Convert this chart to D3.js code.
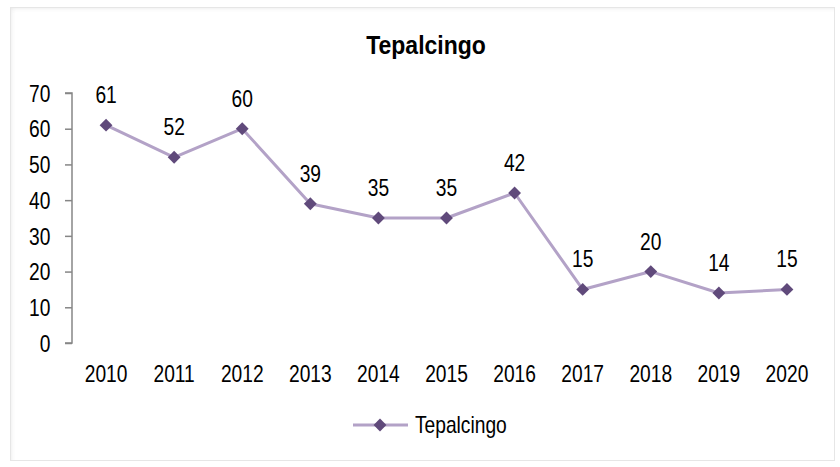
<!DOCTYPE html>
<html>
<head>
<meta charset="utf-8">
<script src="https://cdn.jsdelivr.net/npm/d3@7"></script>
<style>
  body { margin: 0; background: #fff; }
  svg { display: block; font-family: "Liberation Sans", Arial, sans-serif; }
</style>
</head>
<body>
<div id="chart"></div>
<script>
// data
var years = ["2010", "2011", "2012", "2013", "2014", "2015", "2016", "2017", "2018", "2019", "2020"];
var values = [61, 52, 60, 39, 35, 35, 42, 15, 20, 14, 15];
var yTicks = [0, 10, 20, 30, 40, 50, 60, 70];
var seriesName = "Tepalcingo";

var W = 840, H = 467;
var margin = { top: 93, right: 19, bottom: 124, left: 72 };
var width = W - margin.left - margin.right,
    height = H - margin.top - margin.bottom;
var narrow = "scale(0.8,1)"; // fake Arial Narrow

var svg = d3.select("#chart")
    .append("svg")
    .attr("width", W)
    .attr("height", H);

// frame with soft inset shadow (top + left)
var defs = svg.append("defs");
defs.append("clipPath").attr("id", "frameClip")
    .append("rect").attr("x", 10).attr("y", 7).attr("width", 825).attr("height", 454);
defs.append("filter").attr("id", "blur")
    .append("feGaussianBlur").attr("stdDeviation", 3);

svg.append("rect")
    .attr("x", 10).attr("y", 7)
    .attr("width", 825).attr("height", 454)
    .attr("fill", "#fff");
svg.append("g")
    .attr("clip-path", "url(#frameClip)")
    .append("rect")
    .attr("x", 5).attr("y", 2)
    .attr("width", 860).attr("height", 490)
    .attr("fill", "none")
    .attr("stroke", "#d0d0d0")
    .attr("stroke-width", 8)
    .attr("filter", "url(#blur)");
svg.append("rect")
    .attr("x", 10.5).attr("y", 7.5)
    .attr("width", 824).attr("height", 453)
    .attr("fill", "none")
    .attr("stroke", "#e6e6e6");

svg.append("text")
    .attr("transform", "translate(426 54) scale(0.92,1)")
    .attr("text-anchor", "middle")
    .attr("font-size", 25)
    .attr("font-weight", "bold")
    .text(seriesName);

var g = svg.append("g")
    .attr("transform", `translate(${margin.left} ${margin.top})`);

var x = d3.scaleBand()
    .domain(years)
    .range([0, width]);

var y = d3.scaleLinear()
    .domain([0, 70])
    .range([height, 0]);

// y axis
var yAxis = g.append("g")
    .call(d3.axisLeft(y).tickValues(yTicks).tickSize(7).tickPadding(20));
yAxis.select(".domain").attr("stroke", "#868686").attr("stroke-width", 1.5).attr("d", `M-7,${height}H0V0H-7`);
yAxis.selectAll(".tick line").attr("stroke", "#868686").attr("stroke-width", 1.5);
yAxis.selectAll(".tick text")
    .attr("font-size", 24).attr("fill", "#000").attr("font-family", "inherit")
    .attr("dy", "0.34em")
    .attr("transform", narrow);

// x axis (labels only)
var xAxis = g.append("g")
    .attr("transform", `translate(0, ${height})`)
    .call(d3.axisBottom(x).tickSize(0).tickPadding(22));
xAxis.select(".domain").remove();
xAxis.selectAll(".tick text")
    .attr("font-size", 24).attr("fill", "#000").attr("font-family", "inherit")
    .attr("transform", narrow);

var cx = function (d, i) { return x(years[i]) + x.bandwidth() / 2; };

var line = d3.line()
    .x(cx)
    .y(function (d) { return y(d); });

g.append("path")
    .datum(values)
    .attr("fill", "none")
    .attr("stroke", "#b3a2c7")
    .attr("stroke-width", 3)
    .attr("stroke-linejoin", "round")
    .attr("d", line);

var diamond = d3.symbol().type(d3.symbolDiamond2).size(105);

g.selectAll(".pt")
    .data(values)
    .enter().append("path")
    .attr("class", "pt")
    .attr("d", diamond)
    .attr("fill", "#604a7b")
    .attr("transform", function (d, i) { return `translate(${cx(d, i)} ${y(d)})`; });

g.selectAll(".lbl")
    .data(values)
    .enter().append("text")
    .attr("class", "lbl")
    .attr("transform", function (d, i) { return `translate(${cx(d, i)} ${y(d) - 22}) ${narrow}`; })
    .attr("text-anchor", "middle")
    .attr("font-size", 24)
    .text(function (d) { return d; });

// legend
var legend = svg.append("g")
    .attr("transform", "translate(353, 425)");
legend.append("line")
    .attr("x1", 0).attr("x2", 55)
    .attr("stroke", "#b3a2c7")
    .attr("stroke-width", 3);
legend.append("path")
    .attr("d", diamond)
    .attr("fill", "#604a7b")
    .attr("transform", "translate(27 0)");
legend.append("text")
    .attr("transform", `translate(62 8) ${narrow}`)
    .attr("font-size", 24)
    .text(seriesName);
</script>
</body>
</html>
